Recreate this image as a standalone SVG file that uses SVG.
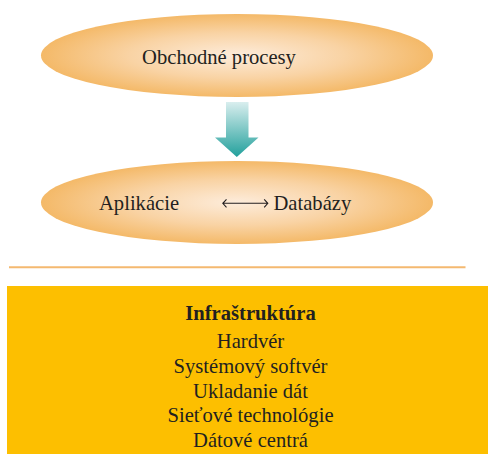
<svg xmlns="http://www.w3.org/2000/svg" width="488" height="454" viewBox="0 0 488 454">
<style>
.t{font-family:"Liberation Serif","Times New Roman",serif;font-size:20.6px;fill:#231f20}
.c{text-anchor:middle}
.b{font-weight:bold}
.ell{fill:url(#og)}
.dbl{stroke:#231f20;stroke-width:1.1;fill:none}
</style>
<defs>
<radialGradient id="og" cx="0.5" cy="0.5" r="0.5">
<stop offset="0" stop-color="#fdecdb"/>
<stop offset="0.55" stop-color="#f9d3a4"/>
<stop offset="1" stop-color="#f4b968"/>
</radialGradient>
<linearGradient id="tg" x1="0" y1="0" x2="0" y2="1">
<stop offset="0" stop-color="#d9eeee"/>
<stop offset="1" stop-color="#22a09c"/>
</linearGradient>
</defs>
<rect width="488" height="454" fill="#ffffff"/>
<g id="obchodne">
<ellipse class="ell" cx="237" cy="55.5" rx="196" ry="41.5"/>
<text class="t c" x="219" y="63.5">Obchodné procesy</text>
</g>
<g id="aplikacie">
<ellipse class="ell" cx="237" cy="202.5" rx="196" ry="41.5"/>
<text class="t" x="99" y="209.5">Aplikácie</text>
<text class="t" x="273.5" y="209.5">Databázy</text>
</g>
<g id="infrastruktura">
<rect x="7" y="286" width="490" height="180" fill="#fdbf00"/>
<text class="t c b" x="250.5" y="320">Infraštruktúra</text>
<text class="t c" x="250.5" y="347.5">Hardvér</text>
<text class="t c" x="250.5" y="372.5">Systémový softvér</text>
<text class="t c" x="250.5" y="397.5">Ukladanie dát</text>
<text class="t c" x="250.5" y="422">Sieťové technológie</text>
<text class="t c" x="250.5" y="447">Dátové centrá</text>
</g>
<g id="connectors">
<path d="M226 102 H248.5 V137.5 H258.5 L236.8 157 L215 137.5 H226 Z" fill="url(#tg)"/>
<path class="dbl" d="M222.8 203.3 H267.8 M226.5 199.3 L222.8 203.3 L226.5 207.3 M264.2 199.3 L267.8 203.3 L264.2 207.3"/>
<line x1="9" y1="267.3" x2="465.5" y2="267.3" stroke="#f4b970" stroke-width="2"/>
</g>
</svg>
